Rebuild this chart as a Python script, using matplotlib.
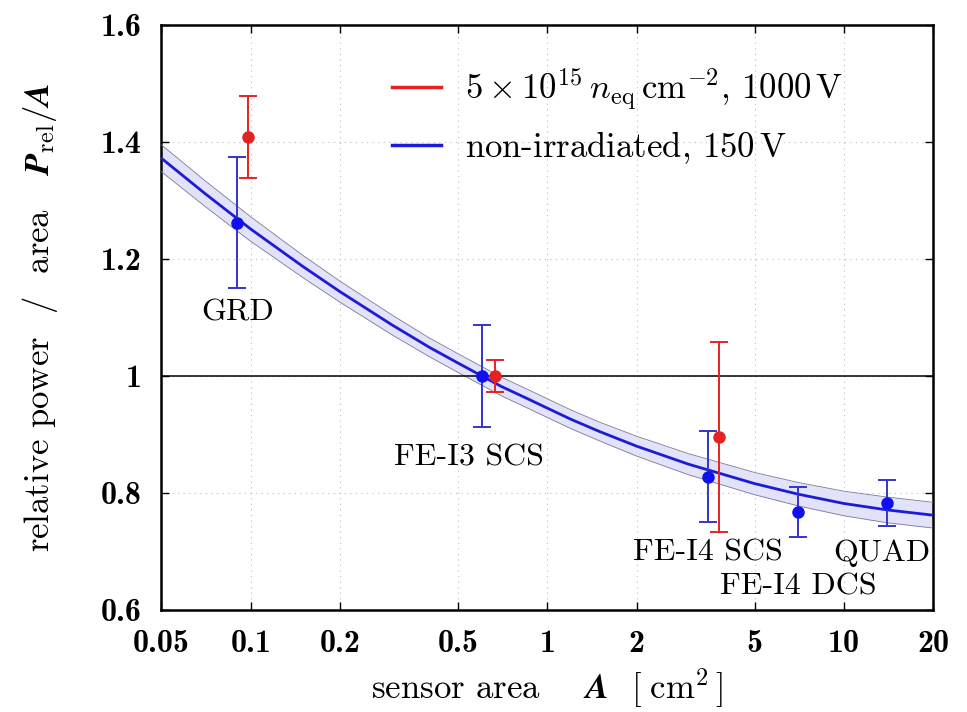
import numpy as np
import matplotlib
matplotlib.use("Agg")
import matplotlib.pyplot as plt
from matplotlib.ticker import NullLocator
from matplotlib.lines import Line2D

plt.rcParams["mathtext.fontset"] = "cm"
plt.rcParams["font.family"] = ["cmr10", "DejaVu Serif"]
plt.rcParams["axes.formatter.use_mathtext"] = True

# sensor modules
labels = ["GRD", "FE-I3 SCS", "FE-I4 SCS", "FE-I4 DCS", "QUAD"]

# non-irradiated, 150 V
area_blue = [0.090, 0.601, 3.48, 7.0, 14.0]
p_blue = [1.262, 1.000, 0.828, 0.768, 0.783]
err_blue = [0.112, 0.087, 0.078, 0.043, 0.040]

# 5e15 neq/cm2, 1000 V
area_red = [0.098, 0.667, 3.80]
p_red = [1.408, 1.000, 0.896]
err_red = [0.070, 0.028, 0.162]

# fit curve with uncertainty band
fit_x = [0.05, 0.07, 0.1, 0.15, 0.2, 0.3, 0.4, 0.5, 0.7, 0.85, 1.0, 1.2, 1.5, 2.0,
         3.0, 5.0, 7.0, 10.0, 14.0, 20.0]
fit_y = [1.372, 1.312, 1.251, 1.187, 1.144, 1.087, 1.049, 1.022, 0.982, 0.962,
         0.945, 0.926, 0.905, 0.880, 0.849, 0.816, 0.798, 0.782, 0.771, 0.762]
fit_err = [0.023, 0.022, 0.021, 0.019, 0.018, 0.017, 0.016, 0.016, 0.016, 0.016,
           0.016, 0.016, 0.016, 0.017, 0.018, 0.019, 0.020, 0.021, 0.022, 0.022]

# label anchor positions (area, value)
label_x = [0.090, 0.545, 3.48, 7.0, 13.4]
label_y = [1.108, 0.860, 0.697, 0.639, 0.697]

xticks = [0.05, 0.1, 0.2, 0.5, 1, 2, 5, 10, 20]
xtick_labels = ["0.05", "0.1", "0.2", "0.5", "1", "2", "5", "10", "20"]
yticks = [0.6, 0.8, 1.0, 1.2, 1.4, 1.6]
ytick_labels = ["0.6", "0.8", "1", "1.2", "1.4", "1.6"]

BLUE = "#1c1cd6"
BLUE_PT = "#1010ee"
RED = "#e52222"

fig = plt.figure(figsize=(9.67, 7.12), dpi=100)
ax = fig.add_axes([0.167, 0.1433, 0.798, 0.8217])

fx = np.array(fit_x)
fy = np.array(fit_y)
fe = np.array(fit_err)
ax.fill_between(fx, fy - fe, fy + fe, color="#e2e2f8", lw=0, zorder=2)
ax.plot(fx, fy + fe, color="#7a7a9a", lw=0.6, zorder=3)
ax.plot(fx, fy - fe, color="#7a7a9a", lw=0.6, zorder=3)
ax.plot(fx, fy, color=BLUE, lw=2.0, zorder=4)

ax.axhline(1.0, color="black", lw=1.1, zorder=3)

ax.errorbar(area_blue, p_blue, yerr=err_blue, fmt="o", color="#3434cc", mfc=BLUE_PT,
            mec=BLUE_PT, ms=8, elinewidth=1.4, capsize=6.5, capthick=1.4, zorder=5)
ax.errorbar(area_red, p_red, yerr=err_red, fmt="o", color=RED, ms=8,
            elinewidth=1.4, capsize=6.5, capthick=1.4, zorder=5)

for name, lx, ly in zip(labels, label_x, label_y):
    ax.text(lx, ly, name, ha="center", va="center", fontsize=23, zorder=6)

ax.set_xscale("log")
ax.set_xlim(0.05, 20)
ax.set_ylim(0.6, 1.6)
ax.set_xticks(xticks)
ax.set_xticklabels(xtick_labels, fontfamily="cmb10", fontsize=23)
ax.xaxis.set_minor_locator(NullLocator())
ax.set_yticks(yticks)
ax.set_yticklabels(ytick_labels, fontfamily="cmb10", fontsize=23)
ax.tick_params(direction="in", length=6, width=1.0, top=True, right=True, pad=14)

ax.grid(True, color="#bdbdbd", lw=0.8, linestyle=(0, (1, 4)), zorder=0)
for s in ax.spines.values():
    s.set_linewidth(1.8)

ax.set_xlabel(r"sensor area    $\mathbfit{A}$  $[\;\mathrm{cm}^2\,]$", fontsize=25, labelpad=6)
ax.set_ylabel(r"relative power  /  area   $\mathbfit{P}_{\mathrm{rel}}/\mathbfit{A}$",
              fontsize=25, labelpad=30)

handles = [Line2D([], [], color=RED, lw=2.5), Line2D([], [], color=BLUE, lw=2.5)]
leg_text = [r"$5\times10^{15}\,n_{\mathrm{eq}}\,\mathrm{cm}^{-2}$, 1000$\,$V",
            r"non-irradiated, 150$\,$V"]
ax.legend(handles, leg_text, loc="upper left", bbox_to_anchor=(0.299, 0.93),
          frameon=False, fontsize=25, handlelength=1.4, handletextpad=0.7,
          labelspacing=0.5, borderpad=0, borderaxespad=0)

fig.savefig("out.png", dpi=100)
